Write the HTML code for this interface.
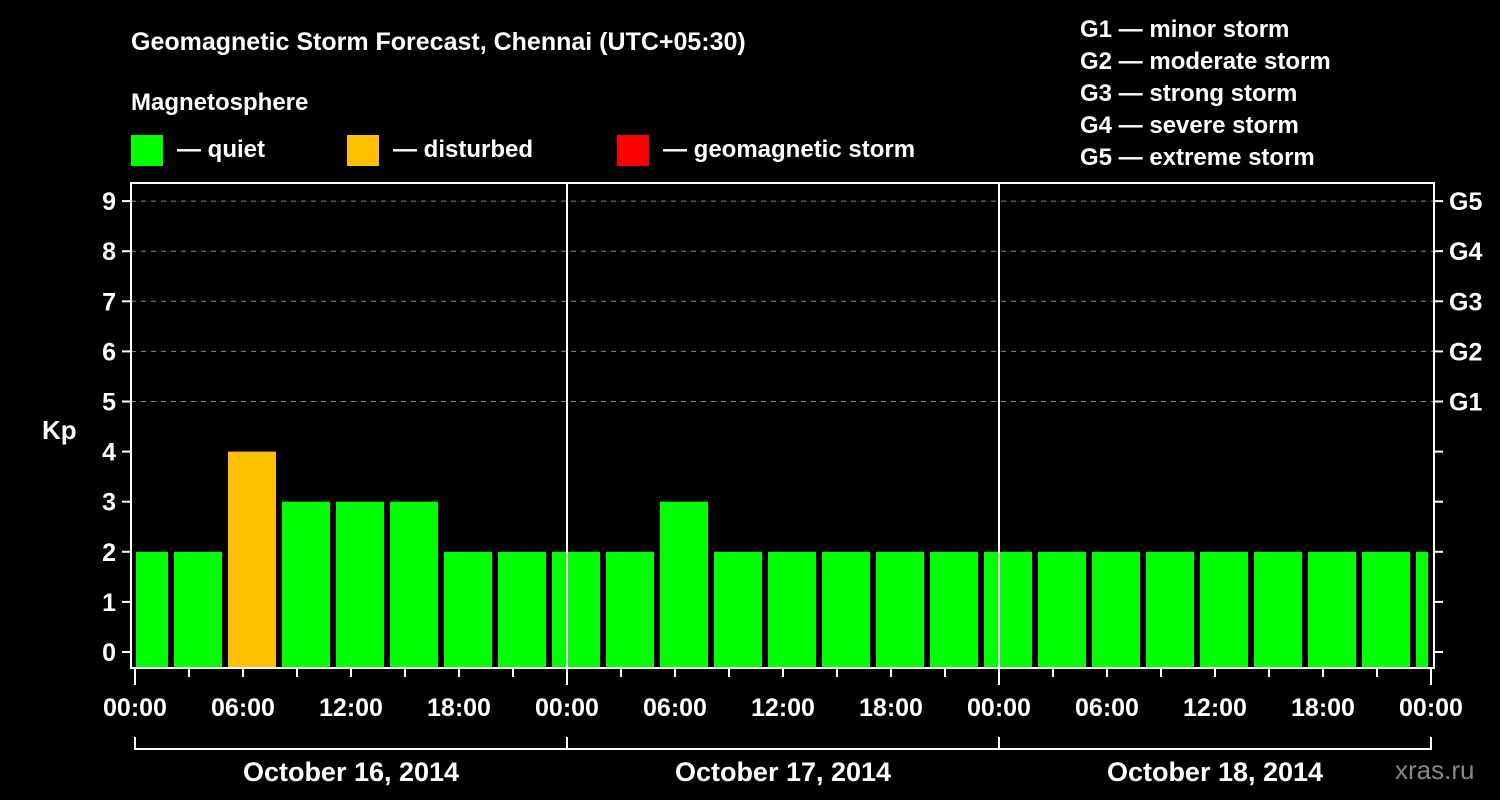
<!DOCTYPE html>
<html><head><meta charset="utf-8">
<style>
html,body{margin:0;padding:0;background:#000;}
svg{display:block;font-family:"Liberation Sans",Arial,sans-serif;font-weight:bold;}
</style></head>
<body>
<svg width="1500" height="800" viewBox="0 0 1500 800" id="chart">
<rect x="0" y="0" width="1500" height="800" fill="#000"/>
<text x="131" y="50" fill="#fff" font-size="25">Geomagnetic Storm Forecast, Chennai (UTC+05:30)</text>
<text x="131" y="110" fill="#fff" font-size="24">Magnetosphere</text>
<g><rect x="131" y="135" width="32" height="31" fill="#00ff00"/><text x="177" y="157" fill="#fff" font-size="24">— quiet</text></g>
<g><rect x="347" y="135" width="32" height="31" fill="#ffc000"/><text x="393" y="157" fill="#fff" font-size="24">— disturbed</text></g>
<g><rect x="617" y="135" width="32" height="31" fill="#ff0000"/><text x="663" y="157" fill="#fff" font-size="24">— geomagnetic storm</text></g>
<g fill="#fff" font-size="24">
<text x="1080" y="37">G1 — minor storm</text>
<text x="1080" y="69">G2 — moderate storm</text>
<text x="1080" y="101">G3 — strong storm</text>
<text x="1080" y="133">G4 — severe storm</text>
<text x="1080" y="165">G5 — extreme storm</text>
</g>
<text x="42" y="439" fill="#fff" font-size="26">Kp</text>
<text x="1395" y="779" fill="#888" font-size="26" font-weight="normal">xras.ru</text>
<g id="grid"></g>
<g id="bars"></g>
<g id="axes"></g>
</svg>
<script>
const kpValues = [2,2,4,3,3,3,2,2, 2,2,3,2,2,2,2,2, 2,2,2,2,2,2,2,2, 2];
const dayLabels = ["October 16, 2014","October 17, 2014","October 18, 2014"];
const yTicks = [0,1,2,3,4,5,6,7,8,9];
const gLabels = ["G1","G2","G3","G4","G5"];
const hourLabels = ["00:00","06:00","12:00","18:00"];

const NS="http://www.w3.org/2000/svg";
const X0=135, HOURPX=18, plotL=131, plotR=1434, plotT=183, plotB=668;
const xs = h => X0 + h*HOURPX;
const ys = v => 652 - v*50.1;
function mk(tag, attrs, parent){const e=document.createElementNS(NS,tag);for(const k in attrs)e.setAttribute(k,attrs[k]);parent.appendChild(e);return e;}
const grid=document.getElementById('grid'), bars=document.getElementById('bars'), axes=document.getElementById('axes');

// grid lines for 5..9
yTicks.forEach(v=>{
  if(v>=5){
    const l=mk('line',{x1:plotL,x2:plotR,y1:ys(v),y2:ys(v),stroke:'#888','stroke-width':1,'stroke-dasharray':'5,5'},grid);
    
    
  }
});
// bars
kpValues.forEach((v,k)=>{
  const c=(3*k+0.5);
  let x1=xs(c-1.5)+3, x2=xs(c+1.5)-3;
  x1=Math.max(x1,136); x2=Math.min(x2,1428);
  const col = v>=5?'#ff0000':(v>=4?'#ffc000':'#00ff00');
  const r=mk('rect',{x:x1,y:ys(v),width:x2-x1,height:plotB-ys(v),fill:col},bars);
  
  
});
// frame
const fr=mk('rect',{x:plotL,y:plotT,width:plotR-plotL,height:plotB-plotT,fill:'none',stroke:'#fff','stroke-width':2},axes);


[1,2].forEach(d=>{
  const l=mk('line',{x1:xs(24*d),x2:xs(24*d),y1:plotT,y2:plotB,stroke:'#fff','stroke-width':2},axes);
  
  
});
// y ticks
yTicks.forEach(v=>{
  mk('line',{x1:122,x2:plotL,y1:ys(v),y2:ys(v),stroke:'#fff','stroke-width':2},axes);
  mk('line',{x1:plotR,x2:1443,y1:ys(v),y2:ys(v),stroke:'#fff','stroke-width':2},axes);
  const t=mk('text',{x:116,y:ys(v)+9,fill:'#fff','font-size':25,'text-anchor':'end'},axes);
  t.textContent=v;
  
  
});
gLabels.forEach((g,i)=>{
  const t=mk('text',{x:1449,y:ys(5+i)+9,fill:'#fff','font-size':25},axes);
  t.textContent=g;
  
  
});
// x ticks and labels
for(let h=0;h<=72;h+=3){
  const day = h%24===0;
  mk('line',{x1:xs(h),x2:xs(h),y1:plotB,y2:plotB+(day?17:9),stroke:'#fff','stroke-width':2},axes);
  if(h%6===0){
    const t=mk('text',{x:xs(h),y:716,fill:'#fff','font-size':25,'text-anchor':'middle'},axes);
    t.textContent = h===72 ? hourLabels[0] : hourLabels[(h%24)/6];
    
    
  }
}
const br=mk('line',{x1:xs(0),x2:xs(72),y1:749,y2:749,stroke:'#fff','stroke-width':2},axes);


for(let d=0;d<=3;d++) mk('line',{x1:xs(24*d),x2:xs(24*d),y1:737,y2:750,stroke:'#fff','stroke-width':2},axes);
dayLabels.forEach((s,d)=>{
  const t=mk('text',{x:xs(24*d+12),y:781,fill:'#fff','font-size':27,'text-anchor':'middle'},axes);
  t.textContent=s;
  
  
});
</script>
</body></html>
